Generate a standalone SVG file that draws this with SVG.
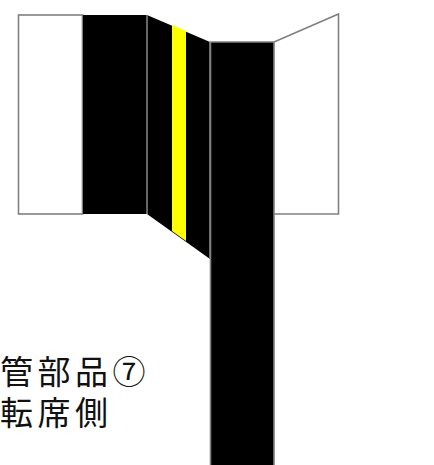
<svg xmlns="http://www.w3.org/2000/svg" width="434" height="465" viewBox="0 0 434 465">
<style>
.o{stroke:#808080;stroke-width:1.6;fill:none}
.k{fill:#000}
.t{font-family:"Noto Sans CJK JP","Noto Sans CJK SC",sans-serif;font-size:33px;fill:#111;font-weight:400;letter-spacing:4.500px}
</style>
<rect width="434" height="465" fill="#fff"/>
<g id="panel-left"><rect class="o" x="18.500" y="15" width="64" height="199" fill="#fff"/></g>
<g id="band-left"><rect class="k" x="83" y="15" width="64" height="199"/></g>
<g id="fold"><polygon class="k" points="147,15 210,42 210,259 147,214"/>
<polygon points="172,25 186,31 186,241 172,231" fill="#ffff00"/>
<path class="o" d="M147 15V214M210 42V259"/></g>
<g id="band-main"><rect class="k" x="211" y="42" width="63" height="423"/><path class="o" d="M210 42H274V465M210.500 42V465"/></g>
<g id="panel-right"><path class="o" d="M274 42L338.500 14V214H274"/></g>
<g id="label"><text class="t" x="0" y="384">管部品⑦</text><text class="t" x="0" y="425">転席側</text></g>
</svg>
